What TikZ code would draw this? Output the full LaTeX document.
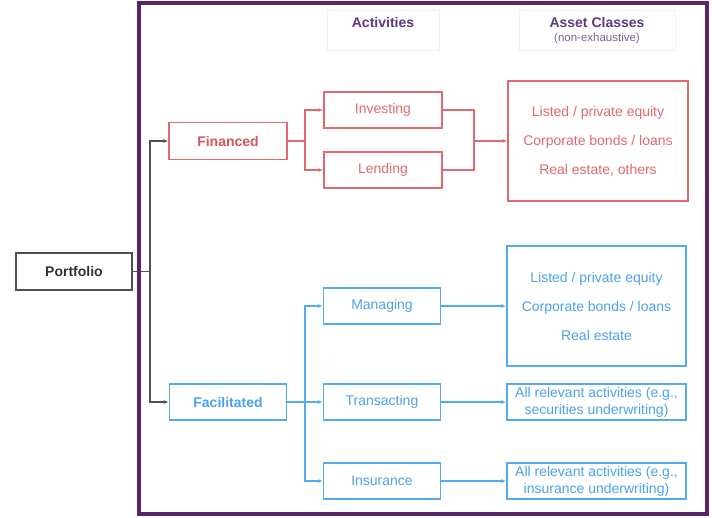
\documentclass[tikz,border=0pt]{standalone}
\usepackage{fontspec}
\setmainfont{Liberation Sans}
\usetikzlibrary{arrows.meta}
\definecolor{framepurple}{HTML}{5A2468}
\definecolor{hdrpurple}{HTML}{5E3A80}
\definecolor{redc}{HTML}{E06A6E}
\definecolor{redtxt}{HTML}{D9535B}
\definecolor{bluec}{HTML}{55AAF0}
\definecolor{bluetxt}{HTML}{4BA2EE}
\definecolor{greyc}{HTML}{505050}
\definecolor{faint}{HTML}{F0F0F0}
\tikzset{
  every node/.style={font=\fontsize{14}{16}\selectfont, inner sep=1pt},
  redbox/.style={draw=redc, line width=1.3pt, text=redc, minimum width=118pt, minimum height=36pt},
  bluebox/.style={draw=bluec, line width=1.3pt, text=bluetxt, minimum width=117pt, minimum height=36pt},
  assetred/.style={draw=redc, line width=1.3pt, text=redc, minimum width=180pt, minimum height=120pt, align=center},
  assetblue/.style={draw=bluec, line width=1.3pt, text=bluetxt, minimum width=179pt, align=center},
  hdrbox/.style={draw=faint, line width=0.6pt, minimum height=40pt},
  redline/.style={draw=redc, line width=1.2pt},
  blueline/.style={draw=bluec, line width=1.2pt},
  greyline/.style={draw=greyc, line width=1.1pt},
  tip/.style={-{Latex[length=5pt,width=4pt]}},
}
\begin{document}
\begin{tikzpicture}[x=1pt,y=-1pt]
\useasboundingbox (0,0) rectangle (712,517);
\fill[white] (0,0) rectangle (712,517);

% headers
\node[hdrbox, minimum width=112pt] (hact) at (383,30) {};
\node[text=hdrpurple, font=\fontsize{14}{16}\selectfont\bfseries] (hacttxt) at (383,22) {Activities};
\node[hdrbox, minimum width=156pt] (hass) at (597,30) {};
\node[text=hdrpurple, font=\fontsize{14}{16}\selectfont\bfseries] (hasstxt) at (597,22) {Asset Classes};
\node[text=hdrpurple!80, font=\fontsize{11.5}{13}\selectfont] (hasssub) at (597,39) {(non-exhaustive)};

% portfolio
\node[draw=greyc, line width=1.5pt, minimum width=116pt, minimum height=37pt, text=black!80, font=\fontsize{14}{16}\selectfont\bfseries] (port) at (74,271.5) {Portfolio};

% financed
\node[redbox, minimum height=37pt, text=redtxt, font=\fontsize{14}{16}\selectfont\bfseries] (fin) at (228,141) {Financed};
\node[redbox] (inv) at (383,110) {Investing};
\node[redbox] (len) at (383,170) {Lending};
\node[assetred, font=\fontsize{14}{29}\selectfont] (ra) at (598,141) {Listed / private equity\\Corporate bonds / loans\\Real estate, others};

% facilitated
\node[bluebox, font=\fontsize{14}{16}\selectfont\bfseries] (fac) at (228,402) {Facilitated};
\node[bluebox] (man) at (382,306) {Managing};
\node[bluebox] (tra) at (382,402) {Transacting};
\node[bluebox] (ins) at (382,481) {Insurance};
\node[assetblue, minimum height=120pt, font=\fontsize{14}{29}\selectfont] (ba) at (596.5,306) {Listed / private equity\\Corporate bonds / loans\\Real estate};
\node[assetblue, minimum height=36pt, font=\fontsize{14}{17}\selectfont] (ta) at (596.5,402) {All relevant activities (e.g.,\\securities underwriting)};
\node[assetblue, minimum height=36pt, font=\fontsize{14}{17}\selectfont] (ia) at (596.5,481) {All relevant activities (e.g.,\\insurance underwriting)};

% coordinates
\coordinate (pj) at (150,271.5);
\coordinate (fj) at (305,141);
\coordinate (mj) at (474,141);
\coordinate (bj) at (305,402);

% portfolio connectors
\draw[greyline] (port.east) -- (pj);
\draw[greyline, tip] (pj) |- (fin.west);
\draw[greyline, tip] (pj) |- (fac.west);

% financed connectors
\draw[redline] (fin.east) -- (fj);
\draw[redline, tip] (fj) |- (inv.west);
\draw[redline, tip] (fj) |- (len.west);
\draw[redline] (inv.east) -| (mj);
\draw[redline] (len.east) -| (mj);
\draw[redline, tip] (mj) -- (ra.west);

% facilitated connectors
\draw[blueline] (fac.east) -- (bj);
\draw[blueline, tip] (bj) |- (man.west);
\draw[blueline, tip] (bj) -- (tra.west);
\draw[blueline, tip] (bj) |- (ins.west);
\draw[blueline, tip] (man.east) -- (ba.west);
\draw[blueline, tip] (tra.east) -- (ta.west);
\draw[blueline, tip] (ins.east) -- (ia.west);

% frame on top
\draw[framepurple, line width=4pt] (139,3) rectangle (707,514);
\end{tikzpicture}
\end{document}
